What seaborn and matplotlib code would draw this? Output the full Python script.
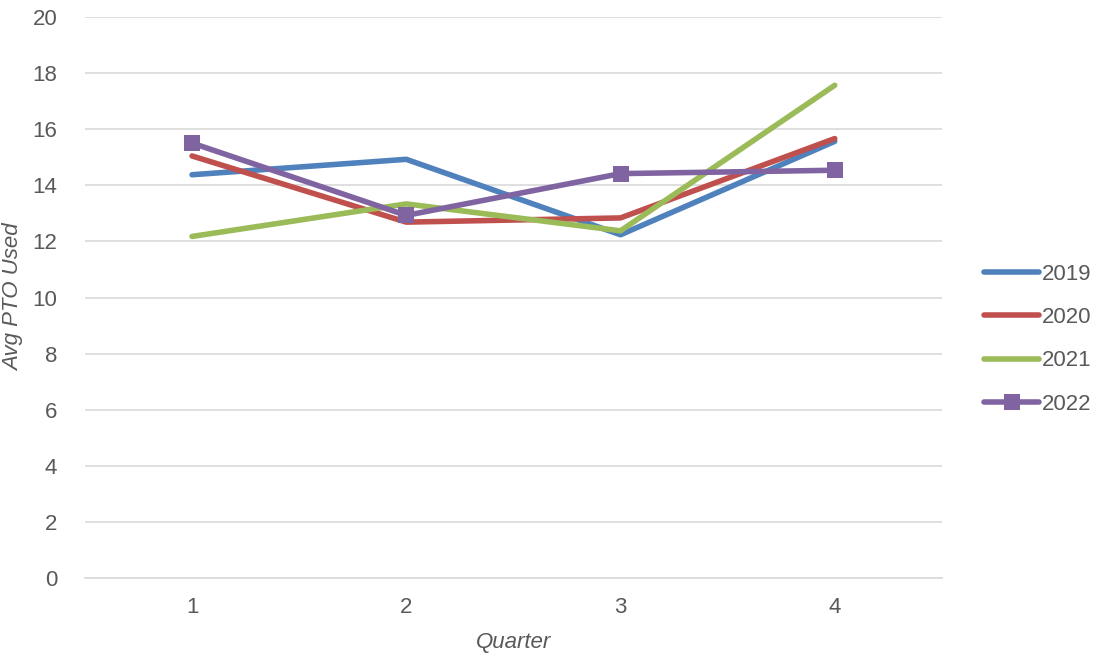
import numpy as np
import pandas as pd
import seaborn as sns
import matplotlib.pyplot as plt

# data
quarters = [1, 2, 3, 4]
years = ['2019', '2020', '2021', '2022']
pto_2019 = [14.38, 14.93, 12.24, 15.57]
pto_2020 = [15.05, 12.69, 12.84, 15.67]
pto_2021 = [12.18, 13.34, 12.38, 17.57]
pto_2022 = [15.51, 12.93, 14.42, 14.54]

colors = ['#4F81BD', '#C0504D', '#9BBB59', '#8064A2']
markers = [None, None, None, 's']

df = pd.DataFrame({
    'Quarter': quarters * 4,
    'Year': np.repeat(years, 4),
    'PTO': pto_2019 + pto_2020 + pto_2021 + pto_2022,
})

sns.set_style('white')
plt.rcParams['font.family'] = ['Liberation Sans', 'DejaVu Sans']
text_color = '#595959'

fig = plt.figure(figsize=(10.99, 6.59), dpi=100)
ax = fig.add_axes([0.0773, 0.1229, 0.857 - 0.0773, 0.974 - 0.1229])

for year, color, marker in zip(years, colors, markers):
    sub = df[df['Year'] == year]
    sns.lineplot(data=sub, x='Quarter', y='PTO', ax=ax, color=color, lw=4.0,
                 marker=marker, markersize=11, markeredgewidth=0,
                 label=year, solid_capstyle='round')

ax.set_xlim(0.5, 4.5)
ax.set_ylim(0, 20)
ax.set_yticks(range(0, 21, 2))
ax.set_xticks(quarters)
ax.yaxis.grid(True, color='#D9D9D9', lw=1.2)
ax.set_axisbelow(True)
for side in ['left', 'right', 'top']:
    ax.spines[side].set_visible(False)
ax.spines['bottom'].set_color('#D9D9D9')
ax.spines['bottom'].set_linewidth(1.2)
ax.tick_params(axis='both', length=0, labelsize=16, labelcolor=text_color)
ax.tick_params(axis='x', pad=14)
ax.tick_params(axis='y', pad=20)

ax.set_xlabel('Quarter', fontsize=16, style='italic', color=text_color, labelpad=10)
ax.set_ylabel('Avg PTO Used', fontsize=16, style='italic', color=text_color, labelpad=6)

ax.legend(loc='center left', bbox_to_anchor=(0.877, 0.485), bbox_transform=fig.transFigure,
          frameon=False, fontsize=16, labelcolor=text_color, handlelength=2.5,
          handletextpad=0.1, labelspacing=1.0)

fig.savefig('out.png', dpi=100)
